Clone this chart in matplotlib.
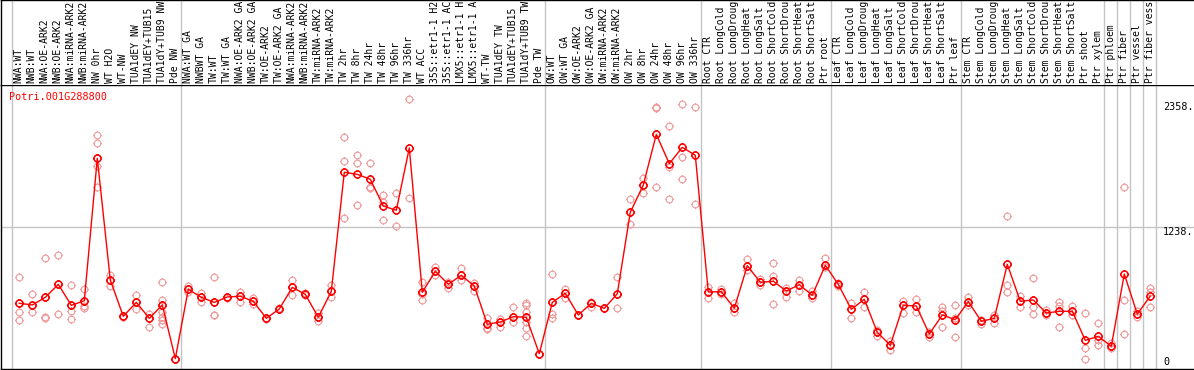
import numpy as np
import matplotlib
matplotlib.use("Agg")
import matplotlib.pyplot as plt
from matplotlib.path import Path

gene_id = "Potri.001G288800"

samples = [
    "NWA:WT", "NWB:WT", "NWA:OE-ARK2", "NWB:OE-ARK2", "NWA:miRNA-ARK2", "NWB:miRNA-ARK2",
    "NW 0hr", "WT H2O", "WT-NW", "TUA1dEY NW", "TUA1dEY+TUB15", "TUA1dY+TUB9 NW", "Pde NW",
    "NWA:WT GA", "NWBWT GA", "TW:WT", "TW:WT GA", "NWA:OE-ARK2 GA", "NWB:OE-ARK2 GA",
    "TW:OE-ARK2", "TW:OE-ARK2 GA", "NWA:miRNA-ARK2", "NWB:miRNA-ARK2", "TW:miRNA-ARK2", "TW:miRNA-ARK2",
    "TW 2hr", "TW 8hr", "TW 24hr", "TW 48hr", "TW 96hr", "TW 336hr",
    "WT ACC", "35S::etr1-1 H2", "35S::etr1-1 AC", "LMX5::etr1-1 H", "LMX5::etr1-1 A",
    "WT-TW", "TUA1dEY TW", "TUA1dEY+TUB15", "TUA1dY+TUB9 TW", "Pde TW",
    "OW:WT", "OW:WT GA", "OW:OE-ARK2", "OW:OE-ARK2 GA", "OW:miRNA-ARK2", "OW:miRNA-ARK2",
    "OW 2hr", "OW 8hr", "OW 24hr", "OW 48hr", "OW 96hr", "OW 336hr",
    "Root CTR", "Root LongCold", "Root LongDroug", "Root LongHeat", "Root LongSalt",
    "Root ShortCold", "Root ShortDrou", "Root ShortHeat", "Root ShortSalt", "Ptr root",
    "Leaf CTR", "Leaf LongCold", "Leaf LongDroug", "Leaf LongHeat", "Leaf LongSalt",
    "Leaf ShortCold", "Leaf ShortDrou", "Leaf ShortHeat", "Leaf ShortSalt", "Ptr leaf",
    "Stem CTR", "Stem LongCold", "Stem LongDroug", "Stem LongHeat", "Stem LongSalt",
    "Stem ShortCold", "Stem ShortDrou", "Stem ShortHeat", "Stem ShortSalt",
    "Ptr shoot", "Ptr xylem", "Ptr phloem", "Ptr fiber", "Ptr vessel", "Ptr fiber vess",
]

means = [
    573, 558, 625, 738, 555, 595, 1837, 776, 459, 581, 442, 558, 90,
    695, 625, 581, 628, 634, 590, 442, 523, 712, 651, 451, 677,
    1715, 1697, 1654, 1421, 1384, 1927,
    669, 852, 739, 817, 724,
    390, 410, 456, 451, 133,
    581, 660, 471, 573, 529, 656,
    1366, 1604, 2046, 1790, 1933, 1863,
    671, 674, 529, 901, 756, 765, 680, 735, 643, 904,
    738, 520, 608, 320, 207, 555, 549, 305, 471, 430,
    587, 416, 442, 913, 590, 602, 488, 503, 503,
    250, 285, 198, 828, 479, 636,
]

replicates = [
    [799, 575, 494, 427], [654, 558, 500], [965, 625, 456, 447], [991, 738, 477],
    [730, 555, 503, 436], [695, 595, 549, 529], [2037, 1968, 1837, 1770, 1589],
    [819, 776, 721], [459, 453], [645, 581, 520], [479, 442, 364],
    [756, 602, 558, 500, 456, 427, 390], [90, 88],
    [724, 695, 667], [663, 625, 584], [799, 581, 473, 468], [628, 621],
    [674, 634, 584], [622, 590, 564], [442, 440], [534, 523],
    [776, 712, 648], [660, 651, 645], [486, 451, 418], [730, 677, 630],
    [2020, 1811, 1314], [1863, 1793, 1430], [1793, 1589, 1575],
    [1517, 1459, 1296], [1534, 1244], [2358, 1488],
    [756, 650, 602], [887, 852, 817], [761, 738, 709], [881, 817, 776], [752, 724, 683],
    [442, 390, 360, 346], [436, 410, 369], [538, 456, 412],
    [573, 558, 500, 451, 412, 355, 290], [133, 131],
    [826, 581, 479, 442], [697, 660, 622], [471, 469], [587, 573, 543],
    [534, 529], [799, 656, 529],
    [1479, 1366, 1262], [1665, 1604, 1532], [2287, 2273, 1584],
    [2116, 1764, 1479], [2308, 1846, 1654], [2282, 1438],
    [715, 671, 622], [697, 674, 656], [573, 529, 494], [959, 901, 860],
    [785, 756, 732], [922, 813, 564], [709, 680, 625], [779, 735, 677],
    [683, 643, 616], [968, 904, 892],
    [747, 738, 726], [573, 520, 442], [669, 608, 538], [340, 320, 290],
    [244, 207, 166], [593, 555, 488], [610, 549, 500], [325, 305, 276],
    [538, 508, 471, 364], [555, 447, 430, 276],
    [630, 587, 558], [427, 416, 395], [471, 442, 404], [1331, 730, 669],
    [636, 590, 543], [791, 538, 477], [512, 488, 471], [584, 549, 364],
    [549, 503, 471],
    [486, 180, 85], [398, 250, 207], [224, 198, 180], [1584, 602, 305],
    [506, 479, 451], [706, 674, 538],
]

group_bounds = [-0.5, 12.5, 40.5, 52.5, 62.5, 72.5, 83.5, 84.5, 85.5, 86.5, 87.5]
y_max_label = 2358
y_mid_label = 1238
y_top = 2476

W, H = 1194, 370
fig = plt.figure(figsize=(W / 100, H / 100), dpi=100)

x0 = (1 - 19.3) / 13.0
x1 = (W - 19.3) / 13.0

ax = fig.add_axes([1 / W, 1 / H, (W - 1) / W, 284 / H])
tax = fig.add_axes([1 / W, 285 / H, (W - 1) / W, 85 / H])

mono = "DejaVu Sans Mono"
grid_c = "#c4c4c4"
pale = "#f09a9a"
fs = 7.0

for a in (ax, tax):
    a.set_xlim(x0, x1)
    a.set_xticks([])
    a.set_yticks([])
    a.spines["right"].set_visible(False)
    for s in ("left", "top", "bottom"):
        a.spines[s].set_color("black")
        a.spines[s].set_linewidth(1.0)
    for b in group_bounds:
        a.axvline(b - 0.1, color=grid_c, lw=1.0, zorder=0)

tax.spines["bottom"].set_visible(False)
tax.set_ylim(0, 85)
for i, lab in enumerate(samples):
    tax.text(i - 0.05, 2, lab, rotation=90, ha="center", va="bottom",
             family=mono, fontsize=fs, clip_on=True)

ax.set_ylim(0, y_top)
ax.axhline(y_mid_label, color=grid_c, lw=1.0, zorder=0)

# sun-like marker: circle with 4 short ticks
circ = Path.unit_circle()
ticks = []
for dx, dy in [(0, 1), (0, -1), (1, 0), (-1, 0)]:
    ticks.append(Path([(dx * 1.0, dy * 1.0), (dx * 1.3, dy * 1.3)], [Path.MOVETO, Path.LINETO]))
sun = Path.make_compound_path(circ, *ticks)

for i, reps in enumerate(replicates):
    ax.plot([i] * len(reps), reps, linestyle="none", marker=sun, ms=6.3,
            mfc="none", mec=pale, mew=0.8, zorder=2)

xs = np.arange(len(means))
ax.plot(xs, means, color="red", lw=1.0, marker=sun, ms=6.5, mfc="none",
        mec="red", mew=1.1, zorder=3)

ax.text((9.3 - 1) / (W - 1), (369 - 96.7) / 284, gene_id, transform=ax.transAxes,
        color="red", family=mono, fontsize=7.3, ha="left", va="center")

xl = (1163 - 19.3) / 13.0
for val, off_px in [(y_max_label, -8.8), (y_mid_label, -4.6), (0, 7.3)]:
    txt = f"{val}." if val else "0"
    ax.annotate(txt, xy=(xl, val), xytext=(0, off_px * 0.72), textcoords="offset points",
                ha="left", va="center", family=mono, fontsize=7.3, annotation_clip=False)

fig.savefig("out.png", dpi=100)
